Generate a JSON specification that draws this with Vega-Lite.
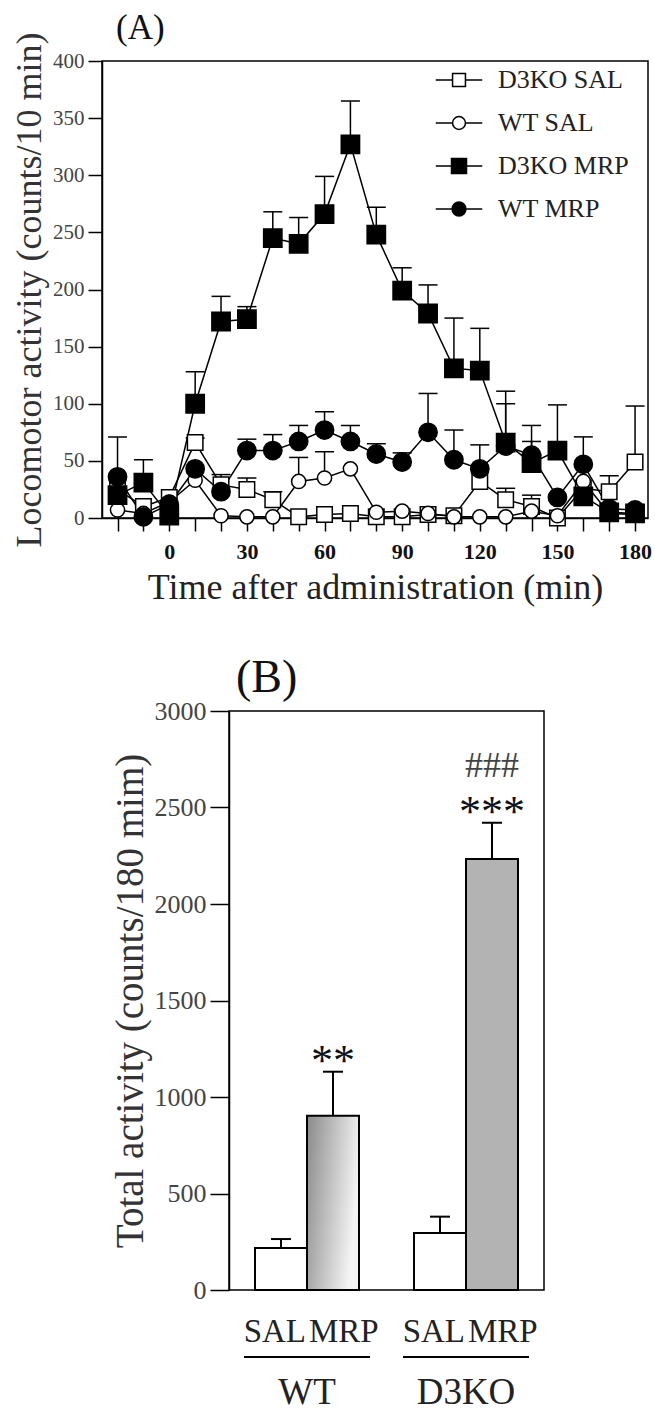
{
  "$schema": "https://vega.github.io/schema/vega-lite/v6.json",
  "background": "white",
  "padding": {"left": 10, "top": 10, "right": 5, "bottom": 0},
  "spacing": 48,
  "config": {
    "font": "Liberation Serif",
    "view": {"stroke": "black", "strokeWidth": 1.5},
    "axis": {"grid": false, "domainColor": "black", "domainWidth": 1.5, "tickColor": "black", "tickWidth": 1.5, "labelFont": "Liberation Serif", "titleFont": "Liberation Serif", "titleFontWeight": "normal", "labelColor": "#333", "titleColor": "#333", "labelOverlap": false, "labelFlush": false},
    "title": {"font": "Liberation Serif", "fontWeight": "normal", "color": "#111"},
    "legend": {"labelFont": "Liberation Serif"}
  },
  "datasets": {
    "timecourse": [
      {"series": "D3KO SAL", "time": -20, "value": 25, "upper": null},
      {"series": "D3KO SAL", "time": -10, "value": 10, "upper": null},
      {"series": "D3KO SAL", "time": 0, "value": 18, "upper": null},
      {"series": "D3KO SAL", "time": 10, "value": 66, "upper": 70},
      {"series": "D3KO SAL", "time": 20, "value": 29, "upper": 38},
      {"series": "D3KO SAL", "time": 30, "value": 25, "upper": 35},
      {"series": "D3KO SAL", "time": 40, "value": 16, "upper": 23},
      {"series": "D3KO SAL", "time": 50, "value": 1, "upper": null},
      {"series": "D3KO SAL", "time": 60, "value": 3, "upper": null},
      {"series": "D3KO SAL", "time": 70, "value": 4, "upper": null},
      {"series": "D3KO SAL", "time": 80, "value": 1, "upper": null},
      {"series": "D3KO SAL", "time": 90, "value": 1, "upper": null},
      {"series": "D3KO SAL", "time": 100, "value": 3, "upper": null},
      {"series": "D3KO SAL", "time": 110, "value": 2, "upper": null},
      {"series": "D3KO SAL", "time": 120, "value": 32, "upper": null},
      {"series": "D3KO SAL", "time": 130, "value": 16, "upper": 26},
      {"series": "D3KO SAL", "time": 140, "value": 10, "upper": 20},
      {"series": "D3KO SAL", "time": 150, "value": 0, "upper": null},
      {"series": "D3KO SAL", "time": 160, "value": 26, "upper": null},
      {"series": "D3KO SAL", "time": 170, "value": 23, "upper": 37},
      {"series": "D3KO SAL", "time": 180, "value": 49, "upper": 98},
      {"series": "WT SAL", "time": -20, "value": 7, "upper": null},
      {"series": "WT SAL", "time": -10, "value": 4, "upper": null},
      {"series": "WT SAL", "time": 0, "value": 14, "upper": null},
      {"series": "WT SAL", "time": 10, "value": 33, "upper": null},
      {"series": "WT SAL", "time": 20, "value": 2, "upper": null},
      {"series": "WT SAL", "time": 30, "value": 1, "upper": null},
      {"series": "WT SAL", "time": 40, "value": 1, "upper": null},
      {"series": "WT SAL", "time": 50, "value": 32, "upper": 53},
      {"series": "WT SAL", "time": 60, "value": 35, "upper": 58},
      {"series": "WT SAL", "time": 70, "value": 43, "upper": null},
      {"series": "WT SAL", "time": 80, "value": 5, "upper": null},
      {"series": "WT SAL", "time": 90, "value": 6, "upper": null},
      {"series": "WT SAL", "time": 100, "value": 4, "upper": null},
      {"series": "WT SAL", "time": 110, "value": 1, "upper": null},
      {"series": "WT SAL", "time": 120, "value": 1, "upper": null},
      {"series": "WT SAL", "time": 130, "value": 1, "upper": null},
      {"series": "WT SAL", "time": 140, "value": 6, "upper": null},
      {"series": "WT SAL", "time": 150, "value": 2, "upper": null},
      {"series": "WT SAL", "time": 160, "value": 32, "upper": null},
      {"series": "WT SAL", "time": 170, "value": 4, "upper": null},
      {"series": "WT SAL", "time": 180, "value": 3, "upper": null},
      {"series": "D3KO MRP", "time": -20, "value": 20, "upper": null},
      {"series": "D3KO MRP", "time": -10, "value": 31, "upper": 51},
      {"series": "D3KO MRP", "time": 0, "value": 2, "upper": null},
      {"series": "D3KO MRP", "time": 10, "value": 100, "upper": 128},
      {"series": "D3KO MRP", "time": 20, "value": 172, "upper": 194},
      {"series": "D3KO MRP", "time": 30, "value": 174, "upper": 185},
      {"series": "D3KO MRP", "time": 40, "value": 245, "upper": 268},
      {"series": "D3KO MRP", "time": 50, "value": 240, "upper": 263},
      {"series": "D3KO MRP", "time": 60, "value": 266, "upper": 299},
      {"series": "D3KO MRP", "time": 70, "value": 327, "upper": 365},
      {"series": "D3KO MRP", "time": 80, "value": 248, "upper": 272},
      {"series": "D3KO MRP", "time": 90, "value": 199, "upper": 219},
      {"series": "D3KO MRP", "time": 100, "value": 179, "upper": 204},
      {"series": "D3KO MRP", "time": 110, "value": 131, "upper": 175},
      {"series": "D3KO MRP", "time": 120, "value": 129, "upper": 166},
      {"series": "D3KO MRP", "time": 130, "value": 66, "upper": 111},
      {"series": "D3KO MRP", "time": 140, "value": 48, "upper": 67},
      {"series": "D3KO MRP", "time": 150, "value": 59, "upper": 99},
      {"series": "D3KO MRP", "time": 160, "value": 19, "upper": null},
      {"series": "D3KO MRP", "time": 170, "value": 5, "upper": null},
      {"series": "D3KO MRP", "time": 180, "value": 4, "upper": null},
      {"series": "WT MRP", "time": -20, "value": 36, "upper": 71},
      {"series": "WT MRP", "time": -10, "value": 1, "upper": null},
      {"series": "WT MRP", "time": 0, "value": 12, "upper": null},
      {"series": "WT MRP", "time": 10, "value": 43, "upper": null},
      {"series": "WT MRP", "time": 20, "value": 23, "upper": null},
      {"series": "WT MRP", "time": 30, "value": 59, "upper": 69},
      {"series": "WT MRP", "time": 40, "value": 59, "upper": 73},
      {"series": "WT MRP", "time": 50, "value": 67, "upper": 81},
      {"series": "WT MRP", "time": 60, "value": 77, "upper": 93},
      {"series": "WT MRP", "time": 70, "value": 67, "upper": 81},
      {"series": "WT MRP", "time": 80, "value": 56, "upper": 65},
      {"series": "WT MRP", "time": 90, "value": 49, "upper": 57},
      {"series": "WT MRP", "time": 100, "value": 75, "upper": 109},
      {"series": "WT MRP", "time": 110, "value": 51, "upper": 77},
      {"series": "WT MRP", "time": 120, "value": 43, "upper": 64},
      {"series": "WT MRP", "time": 130, "value": 63, "upper": 100},
      {"series": "WT MRP", "time": 140, "value": 55, "upper": 81},
      {"series": "WT MRP", "time": 150, "value": 18, "upper": null},
      {"series": "WT MRP", "time": 160, "value": 47, "upper": 71},
      {"series": "WT MRP", "time": 170, "value": 8, "upper": null},
      {"series": "WT MRP", "time": 180, "value": 7, "upper": null}
    ],
    "totals": [
      {"genotype": "WT", "treatment": "SAL", "group": "WT SAL", "total": 218, "upper": 264, "stars": "", "hash": ""},
      {"genotype": "WT", "treatment": "MRP", "group": "WT MRP", "total": 903, "upper": 1131, "stars": "**", "hash": ""},
      {"genotype": "D3KO", "treatment": "SAL", "group": "D3KO SAL", "total": 295, "upper": 380, "stars": "", "hash": ""},
      {"genotype": "D3KO", "treatment": "MRP", "group": "D3KO MRP", "total": 2233, "upper": 2421, "stars": "***", "hash": "###"}
    ]
  },
  "vconcat": [
    {
      "width": 546,
      "height": 457,
      "title": {"text": "(A)", "anchor": "start", "frame": "group", "fontSize": 35, "dx": 14, "offset": -42, "baseline": "alphabetic"},
      "data": {"name": "timecourse"},
      "encoding": {
        "x": {
          "field": "time", "type": "quantitative",
          "scale": {"domain": [-26, 185], "nice": false, "zero": false},
          "title": "Time after administration (min)",
          "axis": {
            "values": [-20, -10, 0, 10, 20, 30, 40, 50, 60, 70, 80, 90, 100, 110, 120, 130, 140, 150, 160, 170, 180],
            "labelExpr": "(datum.value >= 0 && datum.value % 30 == 0) ? datum.label : ''",
            "tickSize": 13, "labelPadding": 10, "labelFontSize": 22, "labelFontWeight": "bold", "labelColor": "#111",
            "titleFontSize": 36, "titlePadding": 8, "titleColor": "#222"
          }
        },
        "y": {"field": "value", "type": "quantitative", "scale": {"domain": [0, 400], "nice": false}, "title": "Locomotor activity (counts/10 min)",
          "axis": {"values": [0, 50, 100, 150, 200, 250, 300, 350, 400], "tickSize": 14, "labelPadding": 4, "labelFontSize": 21, "labelColor": "#444", "titleFontSize": 36, "titlePadding": 4, "titleColor": "#333"}}
      },
      "layer": [
        {
          "mark": {"type": "line", "color": "black", "strokeWidth": 1.5},
          "encoding": {
            "detail": {"field": "series", "type": "nominal"}
          }
        },
        {
          "transform": [{"filter": "isValid(datum.upper)"}],
          "mark": {"type": "rule", "color": "black", "strokeWidth": 1.5},
          "encoding": {
            "y2": {"field": "upper"}
          }
        },
        {
          "transform": [{"filter": "isValid(datum.upper)"}],
          "mark": {"type": "tick", "orient": "horizontal", "color": "black", "size": 19, "thickness": 1.5, "opacity": 1},
          "encoding": {
            "y": {"field": "upper", "type": "quantitative", "title": "Locomotor activity (counts/10 min)"}
          }
        },
        {
          "transform": [{"filter": "datum.series === 'D3KO SAL'"}],
          "mark": {"type": "point", "shape": "square", "filled": true, "fill": "white", "stroke": "black", "strokeWidth": 1.5, "opacity": 1, "size": 240}
        },
        {
          "transform": [{"filter": "datum.series === 'WT SAL'"}],
          "mark": {"type": "point", "shape": "circle", "filled": true, "fill": "white", "stroke": "black", "strokeWidth": 1.5, "opacity": 1, "size": 200}
        },
        {
          "transform": [{"filter": "datum.series === 'D3KO MRP'"}],
          "mark": {"type": "point", "shape": "square", "filled": true, "fill": "black", "stroke": "black", "strokeWidth": 1.5, "opacity": 1, "size": 335}
        },
        {
          "transform": [{"filter": "datum.series === 'WT MRP'"}],
          "mark": {"type": "point", "shape": "circle", "filled": true, "fill": "black", "stroke": "black", "strokeWidth": 1.5, "opacity": 1, "size": 335}
        },
        {
          "mark": {"type": "point", "filled": false, "strokeWidth": 1.5, "opacity": 0, "size": 900},
          "encoding": {
            "fill": {"field": "series", "type": "nominal",
              "scale": {"domain": ["D3KO SAL", "WT SAL", "D3KO MRP", "WT MRP"], "range": ["white", "white", "black", "black"]},
              "legend": {"orient": "none", "legendX": 341, "legendY": 3, "title": null, "labelFontSize": 26, "labelColor": "#222", "symbolSize": 900, "symbolStrokeWidth": 1.5, "symbolOpacity": 1, "labelOffset": 23, "rowPadding": 14, "padding": 0, "labelLimit": 300}},
            "stroke": {"field": "series", "type": "nominal",
              "scale": {"domain": ["D3KO SAL", "WT SAL", "D3KO MRP", "WT MRP"], "range": ["black", "black", "black", "black"]},
              "legend": {"orient": "none", "legendX": 341, "legendY": 3, "title": null, "labelFontSize": 26, "labelColor": "#222", "symbolSize": 900, "symbolStrokeWidth": 1.5, "symbolOpacity": 1, "labelOffset": 23, "rowPadding": 14, "padding": 0, "labelLimit": 300}},
            "shape": {"field": "series", "type": "nominal",
              "scale": {"domain": ["D3KO SAL", "WT SAL", "D3KO MRP", "WT MRP"], "range": [
                "M-1.55,0H-0.43M0.43,0H1.55M-0.43,-0.43H0.43V0.43H-0.43Z",
                "M-1.55,0H-0.43M0.43,0H1.55M-0.43,0A0.43,0.43,0,1,0,0.43,0A0.43,0.43,0,1,0,-0.43,0Z",
                "M-1.55,0H-0.5M0.5,0H1.55M-0.5,-0.5H0.5V0.5H-0.5Z",
                "M-1.55,0H-0.46M0.46,0H1.55M-0.46,0A0.46,0.46,0,1,0,0.46,0A0.46,0.46,0,1,0,-0.46,0Z"
              ]},
              "legend": {"orient": "none", "legendX": 341, "legendY": 3, "title": null, "labelFontSize": 26, "labelColor": "#222", "symbolSize": 900, "symbolStrokeWidth": 1.5, "symbolOpacity": 1, "labelOffset": 23, "rowPadding": 14, "padding": 0, "labelLimit": 300}}
          }
        }
      ]
    },
    {
      "spacing": 0,
      "hconcat": [
        {
          "width": 8, "height": 10,
          "view": {"stroke": null},
          "data": {"values": [{"blank": 1}]},
          "mark": {"type": "point", "opacity": 0},
          "encoding": {}
        },
        {
          "width": 315,
          "height": 579,
          "title": {"text": "(B)", "anchor": "start", "frame": "group", "fontSize": 46, "dx": 7, "offset": -40, "baseline": "alphabetic"},
          "data": {"name": "totals"},
          "encoding": {
            "x": {"field": "genotype", "type": "nominal", "sort": ["WT", "D3KO"],
              "scale": {"paddingInner": 0.346, "paddingOuter": 0.1635},
              "axis": {"title": null, "domain": false, "ticks": false, "labelFontSize": 37, "labelPadding": 84, "labelColor": "#222", "labelAngle": 0}},
            "y": {"field": "total", "type": "quantitative", "scale": {"domain": [0, 3000], "nice": false}, "title": "Total activity (counts/180 mim)",
              "axis": {"values": [0, 500, 1000, 1500, 2000, 2500, 3000], "format": "d", "tickSize": 19, "labelPadding": 4, "labelFontSize": 26, "labelColor": "#444", "titleFontSize": 39, "titlePadding": 4, "titleColor": "#333"}}
          },
          "layer": [
            {
              "mark": {"type": "bar", "stroke": "black", "strokeWidth": 2},
              "encoding": {
                "xOffset": {"field": "treatment", "type": "nominal", "sort": ["SAL", "MRP"], "scale": {"paddingInner": 0, "paddingOuter": 0}},
                "fill": {
                  "condition": [
                    {"test": "datum.group === 'WT MRP'", "value": {"gradient": "linear", "x1": 0, "y1": 0, "x2": 1, "y2": 0.3, "stops": [{"offset": 0, "color": "#8a8a8a"}, {"offset": 1, "color": "#f4f4f4"}]}},
                    {"test": "datum.group === 'D3KO MRP'", "value": "#b3b3b3"}
                  ],
                  "value": "white"
                }
              }
            },
            {
              "mark": {"type": "rule", "color": "black", "strokeWidth": 2},
              "encoding": {
                "xOffset": {"field": "treatment", "type": "nominal", "sort": ["SAL", "MRP"]},
                "y2": {"field": "upper"}
              }
            },
            {
              "mark": {"type": "tick", "orient": "horizontal", "color": "black", "size": 20, "thickness": 2, "opacity": 1},
              "encoding": {
                "xOffset": {"field": "treatment", "type": "nominal", "sort": ["SAL", "MRP"]},
                "y": {"field": "upper", "type": "quantitative", "title": "Total activity (counts/180 mim)"}
              }
            },
            {
              "mark": {"type": "text", "fontSize": 44, "baseline": "alphabetic", "align": "center", "dy": 3, "color": "#111"},
              "encoding": {
                "xOffset": {"field": "treatment", "type": "nominal", "sort": ["SAL", "MRP"]},
                "y": {"field": "upper", "type": "quantitative", "title": "Total activity (counts/180 mim)"},
                "text": {"field": "stars"}
              }
            },
            {
              "mark": {"type": "text", "fontSize": 36, "baseline": "alphabetic", "align": "center", "dy": -46, "color": "#444"},
              "encoding": {
                "xOffset": {"field": "treatment", "type": "nominal", "sort": ["SAL", "MRP"]},
                "y": {"field": "upper", "type": "quantitative", "title": "Total activity (counts/180 mim)"},
                "text": {"field": "hash"}
              }
            },
            {
              "transform": [{"filter": "datum.treatment === 'SAL'"}],
              "mark": {"type": "text", "fontSize": 33, "baseline": "alphabetic", "align": "right", "dx": 25, "dy": 52, "color": "#222"},
              "encoding": {
                "xOffset": {"field": "treatment", "type": "nominal", "sort": ["SAL", "MRP"]},
                "y": {"value": 579},
                "text": {"field": "treatment"}
              }
            },
            {
              "transform": [{"filter": "datum.treatment === 'MRP'"}],
              "mark": {"type": "text", "fontSize": 33, "baseline": "alphabetic", "align": "left", "dx": -24, "dy": 52, "color": "#222"},
              "encoding": {
                "xOffset": {"field": "treatment", "type": "nominal", "sort": ["SAL", "MRP"]},
                "y": {"value": 579},
                "text": {"field": "treatment"}
              }
            },
            {
              "transform": [{"filter": "datum.treatment === 'SAL'"}],
              "mark": {"type": "tick", "orient": "horizontal", "color": "black", "size": 126, "thickness": 2, "opacity": 1},
              "encoding": {
                "y": {"value": 646}
              }
            }
          ]
        }
      ]
    }
  ]
}
